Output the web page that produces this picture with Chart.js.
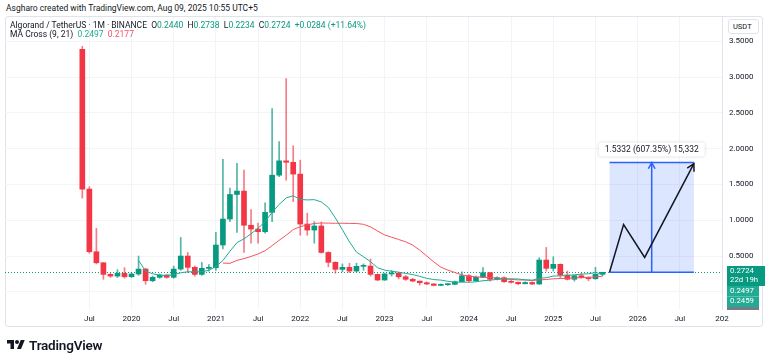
<!DOCTYPE html>
<html>
<head>
<meta charset="utf-8">
<script src="https://cdn.jsdelivr.net/npm/chart.js@4.4.0/dist/chart.umd.min.js"></script>
<style>
  body { margin: 0; background: #fff; font-family: Roboto, "Liberation Sans", sans-serif; color: #131722; }
  #wrap { position: relative; width: 768px; height: 363px; overflow: hidden; }
  #panel { position: absolute; left: 5px; top: 16px; width: 758px; height: 311px; border: 1px solid #e0e3eb; border-radius: 3px; box-sizing: border-box; }
  #c { position: absolute; left: 0; top: 0; }
  .txt { position: absolute; white-space: nowrap; font-size: 8.5px; line-height: 10px; }
  .up { color: #089981; }
  .ma9 { color: #22ab94; }
  .ma21 { color: #f7525f; }
  #unit { position: absolute; left: 728px; top: 19px; width: 31px; height: 15px; border: 1px solid #e0e3eb; border-radius: 3px; box-sizing: border-box; font-size: 7.5px; line-height: 13px; padding-left: 4px; background: #fff; }
  #logo { position: absolute; left: 7px; top: 337px; display: flex; align-items: center; }
  #logo span { font-size: 13.5px; font-weight: 600; margin-left: 4px; letter-spacing: -0.2px; }
</style>
</head>
<body>
<div id="wrap">
  <div class="txt" style="left:6px;top:3px">Asgharo created with TradingView.com, Aug 09, 2025 10:55 UTC+5</div>
  <div id="panel"></div>
  <canvas id="c" width="768" height="363"></canvas>
  <div class="txt" style="left:10px;top:20px">Algorand / TetherUS · 1M · BINANCE&nbsp; O<span class="up">0.2440</span>&nbsp; H<span class="up">0.2738</span>&nbsp; L<span class="up">0.2234</span>&nbsp; C<span class="up">0.2724</span>&nbsp; <span class="up">+0.0284 (+11.64%)</span></div>
  <div class="txt" style="left:10px;top:29px">MA Cross (9, 21)&nbsp; <span class="ma9">0.2497</span>&nbsp; <span class="ma21">0.2177</span></div>
  <div id="unit">USDT</div>
  <div id="logo">
    <svg width="18" height="14" viewBox="0 0 36 28"><path d="M14 22H7V11H0V4h14v18zM28 22h-8l7.5-18h8L28 22z" fill="#131722"/><circle cx="20" cy="8" r="4" fill="#131722"/></svg>
    <span>TradingView</span>
  </div>
</div>
<script>
// monthly candles, ALGO/USDT, first candle = Jun 2019
const FIRST_YEAR = 2019, FIRST_MONTH = 6;

const opens = [3.39, 1.436, 0.56, 0.406, 0.244, 0.22, 0.258, 0.211, 0.249, 0.318,
  0.155, 0.203, 0.235, 0.203, 0.318, 0.50, 0.342, 0.244, 0.328, 0.337,
  0.654, 1.017, 1.36, 1.408, 0.93, 0.877, 0.84, 1.11, 1.63, 1.83,
  1.81, 1.645, 0.947, 0.863, 0.92, 0.55, 0.412, 0.314, 0.342, 0.29,
  0.356, 0.36, 0.244, 0.165, 0.25, 0.26, 0.21, 0.175, 0.15, 0.127,
  0.11, 0.09, 0.10, 0.105, 0.141, 0.225, 0.155, 0.203, 0.267, 0.175,
  0.197, 0.141, 0.133, 0.113, 0.13, 0.109, 0.444, 0.328, 0.384, 0.235,
  0.175, 0.225, 0.197, 0.183, 0.2440];
const highs = [3.43, 1.468, 0.887, 0.41, 0.26, 0.31, 0.337, 0.27, 0.50, 0.33,
  0.22, 0.25, 0.24, 0.36, 0.76, 0.55, 0.36, 0.41, 0.38, 0.83,
  1.85, 1.45, 1.795, 1.70, 1.15, 0.96, 1.245, 2.56, 2.10, 2.98,
  2.04, 1.84, 1.10, 0.98, 0.975, 0.56, 0.42, 0.39, 0.40, 0.40,
  0.39, 0.458, 0.25, 0.26, 0.30, 0.27, 0.23, 0.19, 0.15, 0.14,
  0.115, 0.11, 0.115, 0.15, 0.28, 0.24, 0.22, 0.337, 0.27, 0.21,
  0.21, 0.16, 0.14, 0.14, 0.14, 0.476, 0.62, 0.49, 0.39, 0.29,
  0.235, 0.26, 0.21, 0.342, 0.2738];
const lows = [1.31, 0.54, 0.39, 0.175, 0.20, 0.20, 0.19, 0.20, 0.23, 0.105,
  0.14, 0.19, 0.19, 0.19, 0.30, 0.27, 0.22, 0.23, 0.29, 0.30,
  0.60, 0.98, 0.83, 0.55, 0.68, 0.68, 0.82, 0.98, 1.61, 1.56,
  1.26, 0.79, 0.79, 0.68, 0.54, 0.35, 0.26, 0.28, 0.27, 0.28,
  0.30, 0.22, 0.155, 0.16, 0.22, 0.18, 0.16, 0.14, 0.095, 0.10,
  0.085, 0.085, 0.09, 0.10, 0.14, 0.14, 0.15, 0.20, 0.15, 0.165,
  0.13, 0.12, 0.10, 0.11, 0.10, 0.105, 0.29, 0.29, 0.19, 0.165,
  0.15, 0.19, 0.155, 0.175, 0.2234];
const closes = [1.436, 0.56, 0.406, 0.244, 0.22, 0.258, 0.211, 0.249, 0.318, 0.155,
  0.203, 0.235, 0.203, 0.318, 0.50, 0.342, 0.244, 0.328, 0.337, 0.654,
  1.017, 1.36, 1.408, 0.93, 0.877, 0.84, 1.11, 1.63, 1.83, 1.81,
  1.645, 0.947, 0.863, 0.92, 0.55, 0.412, 0.314, 0.342, 0.29, 0.356,
  0.36, 0.244, 0.165, 0.25, 0.26, 0.21, 0.175, 0.15, 0.127, 0.11,
  0.09, 0.10, 0.105, 0.141, 0.225, 0.155, 0.203, 0.267, 0.175, 0.197,
  0.141, 0.133, 0.113, 0.13, 0.109, 0.444, 0.328, 0.384, 0.235, 0.175,
  0.225, 0.197, 0.183, 0.244, 0.2724];

// MA Cross (9, 21)
const ma9 = [null, null, null, null, null, null, null, null, 0.44, 0.29,
  0.252, 0.233, 0.228, 0.239, 0.266, 0.28, 0.28, 0.281, 0.301, 0.351,
  0.438, 0.567, 0.688, 0.74, 0.81, 0.89, 0.98, 1.11, 1.222, 1.311,
  1.342, 1.291, 1.284, 1.288, 1.256, 1.179, 1.032, 0.867, 0.698, 0.555,
  0.49, 0.421, 0.337, 0.304, 0.287, 0.275, 0.257, 0.241, 0.216, 0.188,
  0.171, 0.164, 0.147, 0.134, 0.136, 0.134, 0.14, 0.155, 0.162, 0.174,
  0.179, 0.182, 0.179, 0.168, 0.163, 0.19, 0.197, 0.22, 0.224, 0.228,
  0.238, 0.247, 0.253, 0.268, 0.2497];
const ma21 = [null, null, null, null, null, null, null, null, null, null,
  null, null, null, null, null, null, null, null, null, null,
  0.402, 0.398, 0.439, 0.464, 0.494, 0.53, 0.575, 0.645, 0.72, 0.79,
  0.87, 0.91, 0.935, 0.955, 0.962, 0.96, 0.958, 0.958, 0.956, 0.955,
  0.943, 0.907, 0.85, 0.795, 0.763, 0.731, 0.699, 0.653, 0.582, 0.50,
  0.418, 0.345, 0.304, 0.27, 0.237, 0.218, 0.208, 0.206, 0.198, 0.194,
  0.183, 0.173, 0.166, 0.165, 0.158, 0.167, 0.172, 0.182, 0.186, 0.189,
  0.194, 0.199, 0.203, 0.21, 0.2177];

// x axis counts months from Jan 2019
const xTickPos = [6, 12, 18, 24, 30, 36, 42, 48, 54, 60, 66, 72, 78, 84, 90, 96];
const xTickLabels = ["Jul", "2020", "Jul", "2021", "Jul", "2022", "Jul", "2023",
  "Jul", "2024", "Jul", "2025", "Jul", "2026", "Jul", "202"];
const yTicks = [0, 0.5, 1, 1.5, 2, 2.5, 3, 3.5];

// long-position drawing (Sep 2025 -> Sep 2026)
const rangeX = [80, 92];
const rangeY = [0.2724, 1.8056];
const rangeArrowX = 86;
const rangeText = "1.5332 (607.35%) 15,332";
const pathX = [80, 82, 85, 92];
const pathY = [0.2724, 0.94, 0.48, 1.79];

// price scale tags
const priceTags = [
  { lines: ["0.2724", "22d 19h"], color: "#089981", w: 38 },
  { lines: ["0.2497"], color: "#22ab94", w: 32 },
  { lines: ["0.2459"], color: "#22ab94", w: 32 }
];

const UP = "#089981", DOWN = "#f23645";
const FONT = "Roboto, 'Liberation Sans', sans-serif";

const xOf = i => (FIRST_YEAR - 2019) * 12 + (FIRST_MONTH - 1) + i;
const isUp = i => closes[i] >= opens[i];

const bodies = closes.map((c, i) => ({ x: xOf(i), y: [opens[i], c] }));
const wicks = closes.map((c, i) => ({ x: xOf(i), y: [lows[i], highs[i]] }));
const ma9Pts = ma9.map((v, i) => ({ x: xOf(i), y: v }));
const ma21Pts = ma21.map((v, i) => ({ x: xOf(i), y: v }));
const pathPts = pathX.map((v, i) => ({ x: v, y: pathY[i] }));

function arrowHead(ctx, fx, fy, tx, ty, len) {
    const a = Math.atan2(ty - fy, tx - fx);
    ctx.beginPath();
    ctx.moveTo(tx - len * Math.cos(a - 0.5), ty - len * Math.sin(a - 0.5));
    ctx.lineTo(tx, ty);
    ctx.lineTo(tx - len * Math.cos(a + 0.5), ty - len * Math.sin(a + 0.5));
    ctx.stroke();
}

const drawings = {
    id: "drawings",
    beforeDatasetsDraw(chart) {
        const { ctx, chartArea: a, scales: { x, y } } = chart;
        ctx.save();
        // last price line
        const py = Math.round(y.getPixelForValue(closes[closes.length - 1])) + 0.5;
        ctx.strokeStyle = UP;
        ctx.lineWidth = 1;
        ctx.setLineDash([1, 2]);
        ctx.beginPath();
        ctx.moveTo(a.left, py);
        ctx.lineTo(a.right, py);
        ctx.stroke();
        ctx.setLineDash([]);

        // range box
        const x0 = x.getPixelForValue(rangeX[0]), x1 = x.getPixelForValue(rangeX[1]);
        const y0 = y.getPixelForValue(rangeY[0]), y1 = y.getPixelForValue(rangeY[1]);
        ctx.fillStyle = "rgba(41,98,255,0.16)";
        ctx.fillRect(x0, y1, x1 - x0, y0 - y1);
        ctx.strokeStyle = "#2962ff";
        ctx.lineWidth = 1.5;
        ctx.beginPath();
        ctx.moveTo(x0, y0); ctx.lineTo(x1, y0);
        ctx.moveTo(x0, y1); ctx.lineTo(x1, y1);
        const ax = x.getPixelForValue(rangeArrowX);
        ctx.moveTo(ax, y0); ctx.lineTo(ax, y1);
        ctx.stroke();
        arrowHead(ctx, ax, y0, ax, y1, 7);
        ctx.restore();
    },
    afterDatasetsDraw(chart) {
        const { ctx, scales: { x, y } } = chart;
        ctx.save();
        // arrow at end of projected path
        const n = pathX.length;
        ctx.strokeStyle = "#131722";
        ctx.lineWidth = 1.5;
        arrowHead(ctx, x.getPixelForValue(pathX[n - 2]), y.getPixelForValue(pathY[n - 2]),
            x.getPixelForValue(pathX[n - 1]), y.getPixelForValue(pathY[n - 1]), 8);

        // range label
        const cx = x.getPixelForValue(rangeArrowX);
        const top = y.getPixelForValue(rangeY[1]);
        ctx.font = "8.5px " + FONT;
        const tw = ctx.measureText(rangeText).width + 12;
        ctx.shadowColor = "rgba(0,0,0,0.18)";
        ctx.shadowBlur = 3;
        ctx.fillStyle = "#fff";
        ctx.beginPath();
        ctx.roundRect(cx - tw / 2, top - 20, tw, 14, 3);
        ctx.fill();
        ctx.shadowBlur = 0;
        ctx.fillStyle = "#131722";
        ctx.textAlign = "center";
        ctx.textBaseline = "middle";
        ctx.fillText(rangeText, cx, top - 13);
        ctx.restore();
    },
    afterDraw(chart) {
        const { ctx, chartArea: a, scales: { y } } = chart;
        ctx.save();
        ctx.font = "7.8px " + FONT;
        ctx.textBaseline = "middle";
        ctx.textAlign = "left";
        let ty = Math.round(y.getPixelForValue(closes[closes.length - 1])) - 6;
        priceTags.forEach(t => {
            const h = t.lines.length * 9.5 + 1;
            ctx.fillStyle = t.color;
            ctx.fillRect(a.right + 5, ty, t.w, h);
            ctx.fillStyle = "#fff";
            t.lines.forEach((s, k) => ctx.fillText(s, a.right + 8, ty + 5 + k * 9.5));
            ty += h;
        });
        ctx.fillStyle = "#787b86";
        ctx.fillRect(a.right + 5, ty, 32, a.bottom - ty + 1);
        ctx.restore();
    }
};

new Chart(document.getElementById("c"), {
    type: "bar",
    data: {
        datasets: [
            {
                type: "line", data: pathPts, borderColor: "#131722", borderWidth: 1.5,
                pointRadius: 0, tension: 0
            },
            {
                type: "line", data: ma9Pts, borderColor: "#22ab94", borderWidth: 1,
                pointRadius: 0, tension: 0
            },
            {
                type: "line", data: ma21Pts, borderColor: "#f7525f", borderWidth: 1,
                pointRadius: 0, tension: 0
            },
            {
                data: bodies, grouped: false, barThickness: 5, minBarLength: 1,
                backgroundColor: bodies.map((b, i) => isUp(i) ? UP : DOWN)
            },
            {
                data: wicks, grouped: false, barThickness: 1, minBarLength: 1,
                backgroundColor: wicks.map((w, i) => isUp(i) ? "rgba(8,153,129,0.7)" : "rgba(242,54,69,0.65)")
            }
        ]
    },
    options: {
        responsive: false,
        animation: false,
        layout: { padding: { left: 5, top: 17, right: 6, bottom: 37 } },
        plugins: { legend: { display: false }, tooltip: { enabled: false } },
        scales: {
            x: {
                type: "linear", min: -6, max: 96, offset: false,
                grid: { color: "#f2f4f8", drawTicks: false, offset: false },
                border: { display: false },
                afterBuildTicks: s => { s.ticks = xTickPos.map(v => ({ value: v })); },
                afterFit: s => { s.height = 17; },
                ticks: {
                    autoSkip: false, maxRotation: 0, padding: 5, color: "#131722",
                    font: { size: 8, family: FONT },
                    callback: v => xTickLabels[xTickPos.indexOf(v)]
                }
            },
            y: {
                position: "right", min: -0.24, max: 3.84,
                grid: { color: "#f2f4f8", drawTicks: false },
                border: { display: true, color: "#e0e3eb" },
                afterBuildTicks: s => { s.ticks = yTicks.map(v => ({ value: v })); },
                afterFit: s => { s.width = 40; },
                ticks: {
                    padding: 7, color: "#131722",
                    font: { size: 8, family: FONT },
                    callback: v => v > 0 ? v.toFixed(4) : ""
                }
            }
        }
    },
    plugins: [drawings]
});
</script>
</body>
</html>
